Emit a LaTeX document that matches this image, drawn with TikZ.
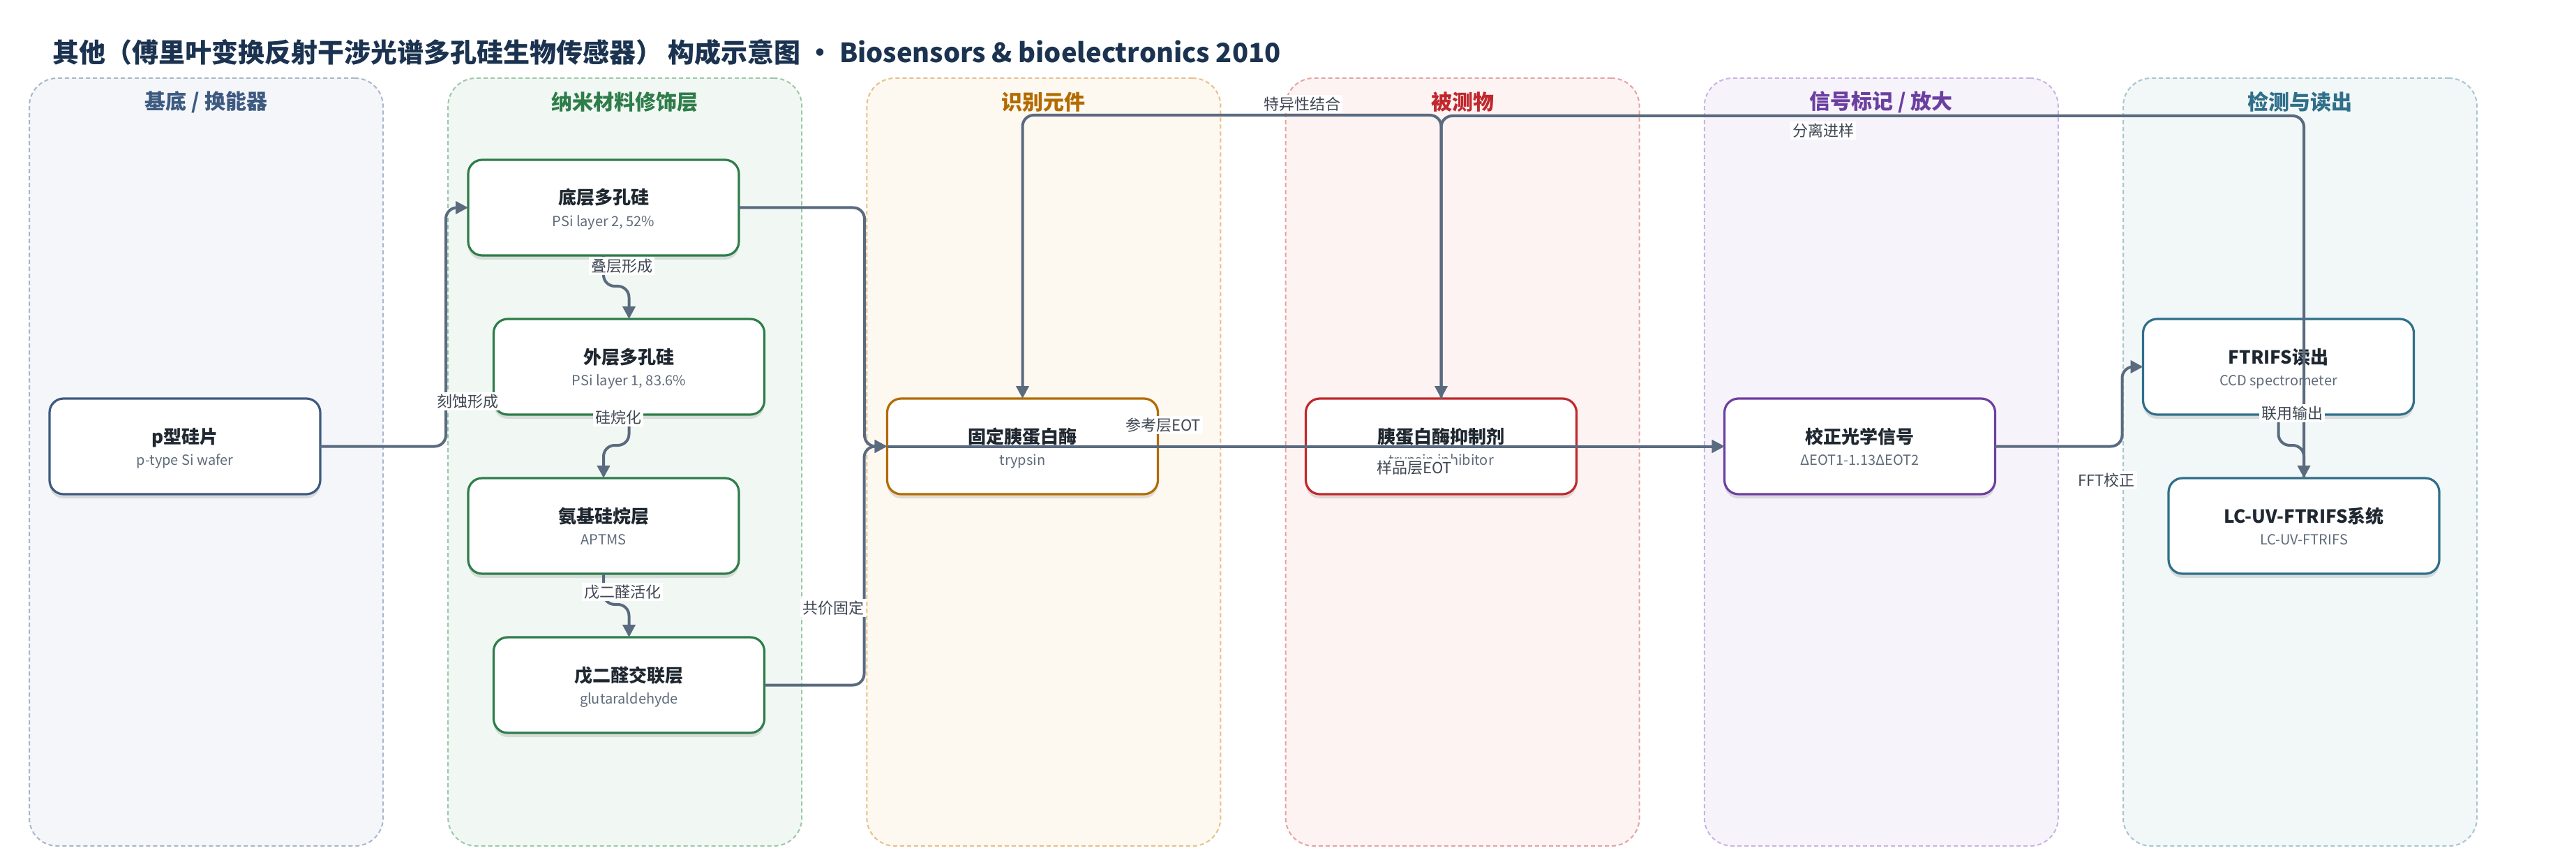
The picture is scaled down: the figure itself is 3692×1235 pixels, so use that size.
\documentclass[tikz,border=0pt]{standalone}
\usepackage{fontspec}
\setmainfont{Noto Sans CJK SC}
\usetikzlibrary{arrows.meta,shadows}
\definecolor{edgec}{HTML}{5A6B80}
\definecolor{titlec}{HTML}{1B3350}
\definecolor{ntc}{HTML}{1F2730}
\definecolor{subc}{HTML}{5F6B7A}
\definecolor{lblc}{HTML}{3F4753}
\definecolor{aC}{HTML}{3D5A80}\definecolor{aB}{HTML}{A9B6CB}\definecolor{aF}{HTML}{F4F6FA}
\definecolor{bC}{HTML}{2E7D4A}\definecolor{bB}{HTML}{9CC8AA}\definecolor{bF}{HTML}{F1F8F3}
\definecolor{cC}{HTML}{B36B00}\definecolor{cB}{HTML}{E8C08A}\definecolor{cF}{HTML}{FDF8F0}
\definecolor{dC}{HTML}{C0282D}\definecolor{dB}{HTML}{E5A3A3}\definecolor{dF}{HTML}{FDF3F2}
\definecolor{eC}{HTML}{6B3FA0}\definecolor{eB}{HTML}{C9B4E3}\definecolor{eF}{HTML}{F7F3FB}
\definecolor{fC}{HTML}{2F6F8A}\definecolor{fB}{HTML}{A8C6D1}\definecolor{fF}{HTML}{F2F7F8}
\newcommand\nodetxt[2]{\rule{0pt}{14.25pt}{\bfseries\fontsize{13pt}{15.75pt}\selectfont #1}\\{\color{subc}#2}\rule[-3pt]{0pt}{3pt}}
\begin{document}
\begin{tikzpicture}[x=0.5pt,y=-0.5pt,
  every node/.style={inner sep=0pt,outer sep=0pt},
  lanebox/.style={rounded corners=20pt,line width=1pt,dash pattern=on 3pt off 2pt,
    minimum width=253.5pt,minimum height=550pt},
  lanetitle/.style={font=\bfseries\fontsize{15pt}{18pt}\selectfont},
  box/.style={draw=#1,fill=white,line width=1.6pt,rounded corners=10pt,
    minimum width=194pt,minimum height=68.5pt,align=center,text=ntc,
    font=\fontsize{10pt}{15.75pt}\selectfont,
    drop shadow={shadow xshift=0pt,shadow yshift=-3pt,opacity=0.16,fill=black!70}},
  conn/.style={draw=edgec,line width=2pt,rounded corners=8pt,
    -{Triangle[length=9pt,width=9pt]}},
  lbl/.style={fill=white,text=lblc,inner sep=1.5pt,font=\fontsize{11pt}{13pt}\selectfont}
]
\fill[white] (0,0) rectangle (3692,1235);
\useasboundingbox (0,0) rectangle (3692,1235);

\node[anchor=west,text=titlec,font=\bfseries\fontsize{19pt}{22pt}\selectfont] (title) at (75,75)
  {其他（傅里叶变换反射干涉光谱多孔硅生物传感器） 构成示意图 · Biosensors \& bioelectronics 2010};

% lanes
\node[lanebox,draw=aB,fill=aF] (L1) at (295.5,662) {};
\node[lanebox,draw=bB,fill=bF] (L2) at (895.7,662) {};
\node[lanebox,draw=cB,fill=cF] (L3) at (1495.9,662) {};
\node[lanebox,draw=dB,fill=dF] (L4) at (2096.1,662) {};
\node[lanebox,draw=eB,fill=eF] (L5) at (2696.3,662) {};
\node[lanebox,draw=fB,fill=fF] (L6) at (3296.5,662) {};
\node[lanetitle,text=aC] (T1) at (295.5,146) {基底 / 换能器};
\node[lanetitle,text=bC] (T2) at (895.7,146) {纳米材料修饰层};
\node[lanetitle,text=cC] (T3) at (1495.9,146) {识别元件};
\node[lanetitle,text=dC] (T4) at (2096.1,146) {被测物};
\node[lanetitle,text=eC] (T5) at (2696.3,146) {信号标记 / 放大};
\node[lanetitle,text=fC] (T6) at (3296.5,146) {检测与读出};

% nodes
\node[box=aC] (p)  at (265,639.5)   {\nodetxt{p型硅片}{p-type Si wafer}};
\node[box=bC] (b1) at (865,297.5)   {\nodetxt{底层多孔硅}{PSi layer 2, 52\%}};
\node[box=bC] (b2) at (901.5,525.5) {\nodetxt{外层多孔硅}{PSi layer 1, 83.6\%}};
\node[box=bC] (b3) at (865,753.5)   {\nodetxt{氨基硅烷层}{APTMS}};
\node[box=bC] (b4) at (901.5,981.5) {\nodetxt{戊二醛交联层}{glutaraldehyde}};
\node[box=cC] (t1) at (1465.5,639.5) {\nodetxt{固定胰蛋白酶}{trypsin}};
\node[box=dC] (t2) at (2065.5,639.5) {\nodetxt{胰蛋白酶抑制剂}{trypsin inhibitor}};
\node[box=eC] (c1) at (2665.5,639.5) {\nodetxt{校正光学信号}{ΔEOT1-1.13ΔEOT2}};
\node[box=fC] (f1) at (3265.5,525.5) {\nodetxt{FTRIFS读出}{CCD spectrometer}};
\node[box=fC] (lc) at (3302,753.5)   {\nodetxt{LC-UV-FTRIFS系统}{LC-UV-FTRIFS}};

% connectors
\draw[conn] (p.east) -- ++(180,0) |- (b1.west);
\draw[conn] (b1.south) -- ++(0,44) -| (b2.north);
\draw[conn] (b2.south) -- ++(0,44) -| (b3.north);
\draw[conn] (b3.south) -- ++(0,44) -| (b4.north);
\draw[conn] (b1.east) -- ++(180,0) |- (t1.west);
\draw[conn] (b4.east) -- ++(143,0) |- (t1.west);
\draw[conn] (t1.west) -- (c1.west);
\draw[conn] (t2.west) -- (c1.west);
\draw[conn] (t2.north) -- ++(0,-406) -| (t1.north);
\draw[conn] (lc.north) -- ++(0,-519) -| (t2.north);
\draw[conn] (c1.east) -- ++(182,0) |- (f1.west);
\draw[conn] (f1.south) -- ++(0,44) -| (lc.north);

% labels
\node[lbl] (l1) at (670,575) {刻蚀形成};
\node[lbl] (l2) at (891,381) {叠层形成};
\node[lbl] (l3) at (886,598) {硅烷化};
\node[lbl] (l4) at (892,848) {戊二醛活化};
\node[lbl] (l6) at (1194,871) {共价固定};
\node[lbl] (l7) at (1667,609) {参考层EOT};
\node[lbl] (l8) at (2027,670) {样品层EOT};
\node[lbl] (l9) at (1866,149) {特异性结合};
\node[lbl] (l10) at (2613,187) {分离进样};
\node[lbl] (l11) at (3019,688) {FFT校正};
\node[lbl] (l12) at (3285,592) {联用输出};
\end{tikzpicture}
\end{document}
